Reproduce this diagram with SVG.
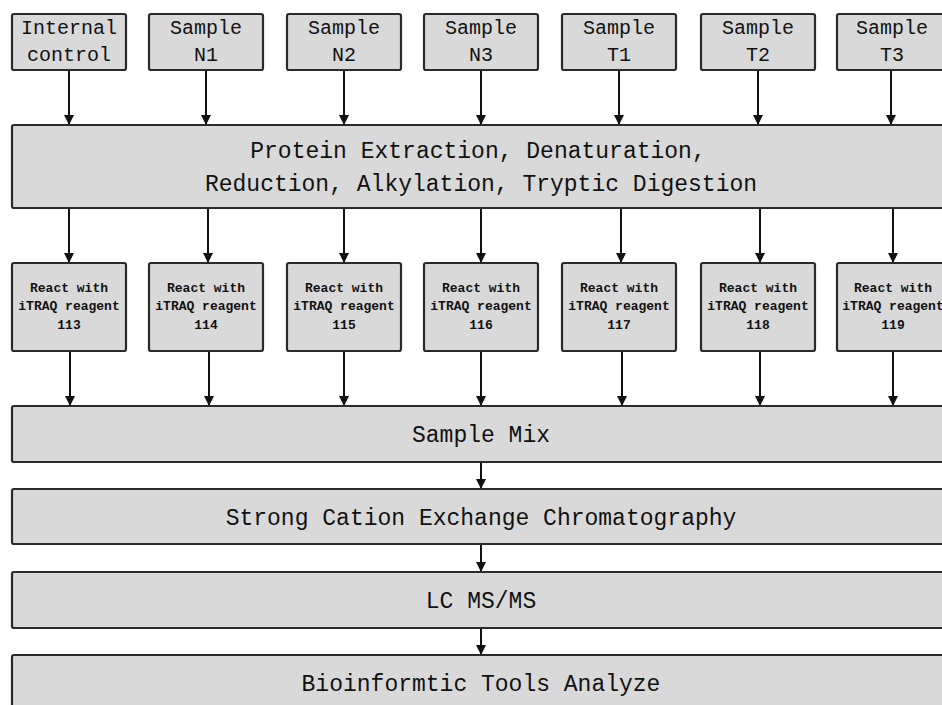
<svg xmlns="http://www.w3.org/2000/svg" width="942" height="705" viewBox="0 0 942 705">
<defs>
<style>
.box{fill:#d9d9d9;stroke:#2a2a2a;stroke-width:2.2}
.t{font-family:"Liberation Mono","DejaVu Sans Mono",monospace;fill:#111;text-anchor:middle}
.top{font-size:20px}
.big{font-size:23px}
.sm{font-size:13px;font-weight:bold}
.c{stroke:#111;stroke-width:2;fill:none;marker-end:url(#ah)}
</style>
<marker id="ah" viewBox="0 0 10 10" refX="10" refY="5" markerWidth="5" markerHeight="5" markerUnits="strokeWidth" orient="auto">
<path d="M0,0 L10,5 L0,10 z" fill="#111"/>
</marker>
</defs>
<rect width="942" height="705" fill="#fff"/>
<g id="connectors">
<line class="c" x1="69" y1="70" x2="69" y2="125"/>
<line class="c" x1="206" y1="70" x2="206" y2="125"/>
<line class="c" x1="344" y1="70" x2="344" y2="125"/>
<line class="c" x1="481" y1="70" x2="481" y2="125"/>
<line class="c" x1="619" y1="70" x2="619" y2="125"/>
<line class="c" x1="758" y1="70" x2="758" y2="125"/>
<line class="c" x1="891" y1="70" x2="891" y2="125"/>
<line class="c" x1="69" y1="208" x2="69" y2="263"/>
<line class="c" x1="208" y1="208" x2="208" y2="263"/>
<line class="c" x1="344" y1="208" x2="344" y2="263"/>
<line class="c" x1="481" y1="208" x2="481" y2="263"/>
<line class="c" x1="621" y1="208" x2="621" y2="263"/>
<line class="c" x1="760" y1="208" x2="760" y2="263"/>
<line class="c" x1="893" y1="208" x2="893" y2="263"/>
<line class="c" x1="70" y1="351" x2="70" y2="406"/>
<line class="c" x1="209" y1="351" x2="209" y2="406"/>
<line class="c" x1="344" y1="351" x2="344" y2="406"/>
<line class="c" x1="481" y1="351" x2="481" y2="406"/>
<line class="c" x1="622" y1="351" x2="622" y2="406"/>
<line class="c" x1="760" y1="351" x2="760" y2="406"/>
<line class="c" x1="893" y1="351" x2="893" y2="406"/>
<line class="c" x1="481" y1="462" x2="481" y2="489"/>
<line class="c" x1="481" y1="544" x2="481" y2="572"/>
<line class="c" x1="481" y1="628" x2="481" y2="655"/>
</g>
<g id="n-internal"><rect class="box" x="12" y="14" width="114" height="56" rx="2"/><text class="t top" x="69" y="34">Internal</text><text class="t top" x="69" y="61">control</text></g>
<g id="n-n1"><rect class="box" x="149" y="14" width="114" height="56" rx="2"/><text class="t top" x="206" y="34">Sample</text><text class="t top" x="206" y="61">N1</text></g>
<g id="n-n2"><rect class="box" x="287" y="14" width="114" height="56" rx="2"/><text class="t top" x="344" y="34">Sample</text><text class="t top" x="344" y="61">N2</text></g>
<g id="n-n3"><rect class="box" x="424" y="14" width="114" height="56" rx="2"/><text class="t top" x="481" y="34">Sample</text><text class="t top" x="481" y="61">N3</text></g>
<g id="n-t1"><rect class="box" x="562" y="14" width="114" height="56" rx="2"/><text class="t top" x="619" y="34">Sample</text><text class="t top" x="619" y="61">T1</text></g>
<g id="n-t2"><rect class="box" x="701" y="14" width="114" height="56" rx="2"/><text class="t top" x="758" y="34">Sample</text><text class="t top" x="758" y="61">T2</text></g>
<g id="n-t3"><rect class="box" x="837" y="14" width="114" height="56" rx="2"/><text class="t top" x="892" y="34">Sample</text><text class="t top" x="892" y="61">T3</text></g>
<g id="n-protein"><rect class="box" x="12" y="125" width="940" height="83" rx="2"/><text class="t big" x="478" y="158">Protein Extraction, Denaturation,</text><text class="t big" x="481" y="191">Reduction, Alkylation, Tryptic Digestion</text></g>
<g id="n-r113"><rect class="box" x="12" y="263" width="114" height="88" rx="2"/><text class="t sm" x="69" y="292">React with</text><text class="t sm" x="69" y="310">iTRAQ reagent</text><text class="t sm" x="69" y="329">113</text></g>
<g id="n-r114"><rect class="box" x="149" y="263" width="114" height="88" rx="2"/><text class="t sm" x="206" y="292">React with</text><text class="t sm" x="206" y="310">iTRAQ reagent</text><text class="t sm" x="206" y="329">114</text></g>
<g id="n-r115"><rect class="box" x="287" y="263" width="114" height="88" rx="2"/><text class="t sm" x="344" y="292">React with</text><text class="t sm" x="344" y="310">iTRAQ reagent</text><text class="t sm" x="344" y="329">115</text></g>
<g id="n-r116"><rect class="box" x="424" y="263" width="114" height="88" rx="2"/><text class="t sm" x="481" y="292">React with</text><text class="t sm" x="481" y="310">iTRAQ reagent</text><text class="t sm" x="481" y="329">116</text></g>
<g id="n-r117"><rect class="box" x="562" y="263" width="114" height="88" rx="2"/><text class="t sm" x="619" y="292">React with</text><text class="t sm" x="619" y="310">iTRAQ reagent</text><text class="t sm" x="619" y="329">117</text></g>
<g id="n-r118"><rect class="box" x="701" y="263" width="114" height="88" rx="2"/><text class="t sm" x="758" y="292">React with</text><text class="t sm" x="758" y="310">iTRAQ reagent</text><text class="t sm" x="758" y="329">118</text></g>
<g id="n-r119"><rect class="box" x="837" y="263" width="114" height="88" rx="2"/><text class="t sm" x="893" y="292">React with</text><text class="t sm" x="893" y="310">iTRAQ reagent</text><text class="t sm" x="893" y="329">119</text></g>
<g id="n-mix"><rect class="box" x="12" y="406" width="940" height="56" rx="2"/><text class="t big" x="481" y="442">Sample Mix</text></g>
<g id="n-scx"><rect class="box" x="12" y="489" width="940" height="55" rx="2"/><text class="t big" x="481" y="525">Strong Cation Exchange Chromatography</text></g>
<g id="n-lc"><rect class="box" x="12" y="572" width="940" height="56" rx="2"/><text class="t big" x="481" y="608">LC MS/MS</text></g>
<g id="n-bio"><rect class="box" x="12" y="655" width="940" height="60" rx="2"/><text class="t big" x="481" y="691">Bioinformtic Tools Analyze</text></g>
</svg>
